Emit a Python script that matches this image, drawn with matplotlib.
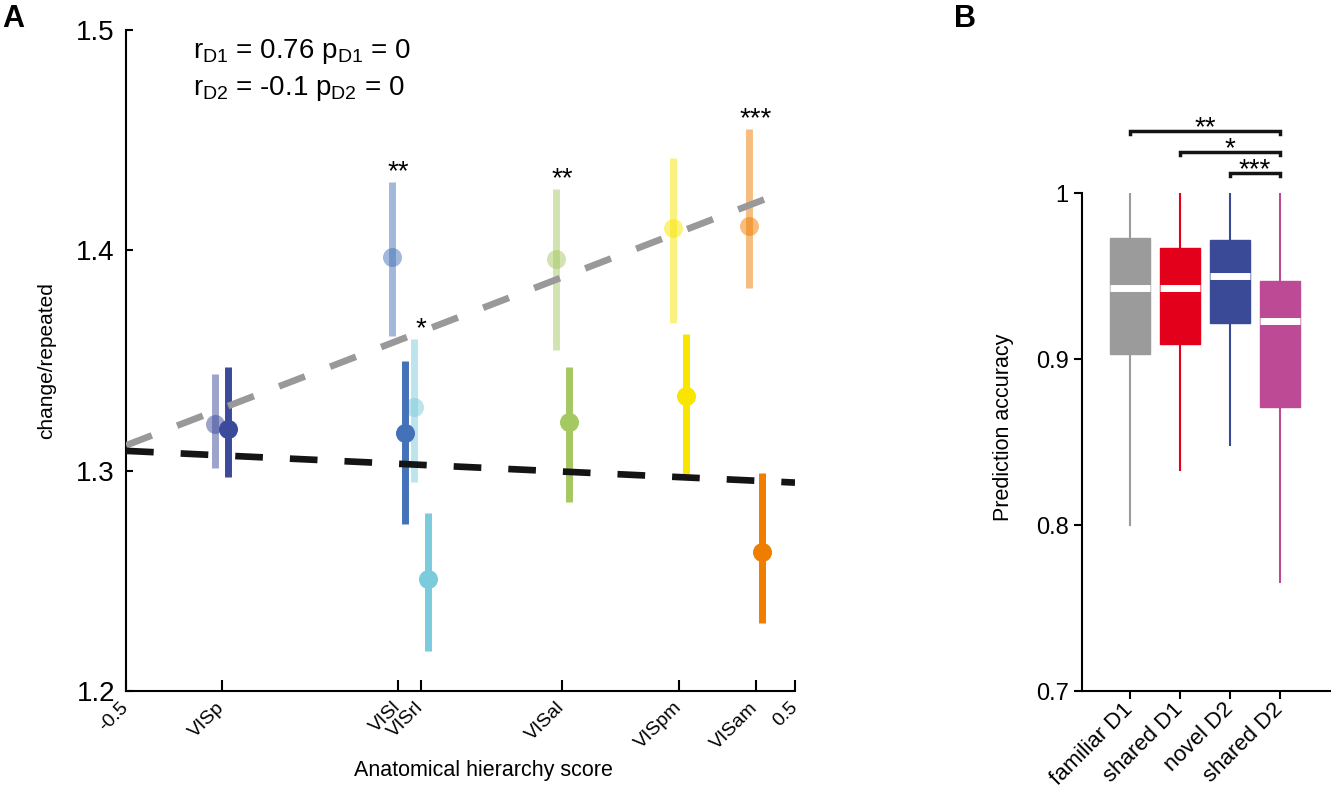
import matplotlib.pyplot as plt
import numpy as np

plt.rcParams['font.family'] = ['Liberation Sans', 'DejaVu Sans']
plt.rcParams['mathtext.default'] = 'regular'

# ---- Panel A data ----
areas = ['VISp', 'VISl', 'VISrl', 'VISal', 'VISpm', 'VISam']
hierarchy = [-0.357, -0.093, -0.059, 0.152, 0.327, 0.441]
area_colors = ['#3b4a9a', '#4472b9', '#7ccbdc', '#a5c962', '#f9e500', '#ef7d00']

d1_mean = [1.321, 1.397, 1.329, 1.396, 1.410, 1.411]
d1_low = [1.301, 1.361, 1.295, 1.355, 1.367, 1.383]
d1_high = [1.344, 1.431, 1.360, 1.428, 1.442, 1.455]

d2_mean = [1.319, 1.317, 1.251, 1.322, 1.334, 1.263]
d2_low = [1.297, 1.276, 1.218, 1.286, 1.298, 1.231]
d2_high = [1.347, 1.350, 1.281, 1.347, 1.362, 1.299]

area_stars = ['', '**', '*', '**', '', '***']

# regression lines (slope, intercept)
fit_d1 = [0.117, 1.370]
fit_d2 = [-0.0144, 1.3018]

# ---- Panel B data ----
groups = ['familiar D1', 'shared D1', 'novel D2', 'shared D2']
box_colors = ['#9b9b9b', '#e2001a', '#3b4a97', '#bd4a94']
med = [0.943, 0.943, 0.950, 0.923]
q1 = [0.903, 0.909, 0.922, 0.871]
q3 = [0.973, 0.967, 0.972, 0.947]
whis_lo = [0.800, 0.833, 0.848, 0.766]
whis_hi = [1.0, 1.0, 1.0, 1.0]
comparisons = [(1, 4, '**'), (2, 4, '*'), (3, 4, '***')]

fig = plt.figure(figsize=(13.31, 7.91), dpi=100)
axA = fig.add_axes([0.0947, 0.1264, 0.5026, 0.8356])
axB = fig.add_axes([0.8129, 0.1264, 0.1863, 0.6292])

# ---- Panel A ----
off = 0.01
for i in range(len(areas)):
    x = hierarchy[i]
    c = area_colors[i]
    axA.errorbar(x - off, d1_mean[i],
                 yerr=[[d1_mean[i] - d1_low[i]], [d1_high[i] - d1_mean[i]]],
                 fmt='o', ms=13.7, mew=0, color=c, ecolor=c, elinewidth=5,
                 capsize=0, alpha=0.5, zorder=2)
    axA.errorbar(x + off, d2_mean[i],
                 yerr=[[d2_mean[i] - d2_low[i]], [d2_high[i] - d2_mean[i]]],
                 fmt='o', ms=13.7, mew=0, color=c, ecolor=c, elinewidth=5,
                 capsize=0, zorder=3)
    if area_stars[i]:
        axA.annotate(area_stars[i], (x, d1_high[i]), xytext=(0, 2),
                     textcoords='offset points', ha='center', va='baseline',
                     fontsize=20)

# fit lines: D1 drawn up to the last area, D2 across the whole axis
x1 = np.array([-0.5, max(hierarchy) + 0.02])
x2 = np.array([-0.5, 0.5])
axA.plot(x1, fit_d1[0] * x1 + fit_d1[1], color='#999999', lw=4.8,
         ls=(0, (4.15, 4.05)), dash_capstyle='butt', zorder=5)
axA.plot(x2, fit_d2[0] * x2 + fit_d2[1], color='#141414', lw=4.8,
         ls=(0, (4.15, 4.05)), dash_capstyle='butt', zorder=5)

axA.set_xlim(-0.5, 0.5)
axA.set_ylim(1.2, 1.5)
axA.set_yticks([1.2, 1.3, 1.4, 1.5])
axA.set_yticklabels(['1.2', '1.3', '1.4', '1.5'], fontsize=20)
axA.set_xticks([-0.5] + hierarchy + [0.5])
axA.set_xticklabels(['-0.5'] + areas + ['0.5'], fontsize=14, rotation=45,
                    ha='right', va='center', rotation_mode='anchor')
axA.tick_params(axis='x', direction='in', length=8, width=1.5, pad=10)
axA.tick_params(axis='y', direction='in', length=5, width=1.5, pad=8)
for s in ['top', 'right']:
    axA.spines[s].set_visible(False)
for s in ['left', 'bottom']:
    axA.spines[s].set_linewidth(1.5)
axA.set_xlabel('Anatomical hierarchy score', fontsize=15.5)
axA.xaxis.set_label_coords(0.534, -0.105)
axA.set_ylabel('change/repeated', fontsize=15)
axA.yaxis.set_label_coords(-0.105, 0.5)

axA.text(0.1, 0.9576, 'r$_{D1}$ = 0.76 p$_{D1}$ = 0', transform=axA.transAxes,
         fontsize=20, va='baseline')
axA.text(0.1, 0.9017, 'r$_{D2}$ = -0.1 p$_{D2}$ = 0', transform=axA.transAxes,
         fontsize=20, va='baseline')

# ---- Panel B ----
positions = np.arange(1, len(groups) + 1)
stats = []
for k in range(len(groups)):
    stats.append(dict(med=med[k], q1=q1[k], q3=q3[k], whislo=whis_lo[k],
                      whishi=whis_hi[k], fliers=[], label=groups[k]))
bp = axB.bxp(stats, positions=positions, widths=0.8, patch_artist=True,
             showcaps=False, showfliers=False)
for k, c in enumerate(box_colors):
    bp['boxes'][k].set_facecolor(c)
    bp['boxes'][k].set_edgecolor(c)
    bp['boxes'][k].set_linewidth(1)
    bp['medians'][k].set_color('white')
    bp['medians'][k].set_linewidth(5)
    bp['medians'][k].set_solid_capstyle('butt')
    for w in bp['whiskers'][2 * k:2 * k + 2]:
        w.set_color(c)
        w.set_linewidth(1.5)

axB.set_xlim(0.04, 5.0)
axB.set_ylim(0.7, 1.0)
axB.set_yticks([0.7, 0.8, 0.9, 1.0])
axB.set_yticklabels(['0.7', '0.8', '0.9', '1'], fontsize=17)
axB.set_xticks(positions)
axB.set_xticklabels(groups, fontsize=16, rotation=45, ha='right',
                    va='center', rotation_mode='anchor')
axB.tick_params(direction='out', length=6, width=1.5)
axB.tick_params(axis='x', pad=5)
for s in ['top', 'right']:
    axB.spines[s].set_visible(False)
for s in ['left', 'bottom']:
    axB.spines[s].set_linewidth(1.5)
axB.set_ylabel('Prediction accuracy', fontsize=15.5)
axB.yaxis.set_label_coords(-0.274, 0.53)

for n, (a, b, star) in enumerate(comparisons):
    h = 1.0 + 0.0125 * (len(comparisons) - n)
    axB.plot([a, a, b, b], [h - 0.002, h, h, h - 0.002], color='#141414',
             lw=2.5, clip_on=False, solid_joinstyle='miter')
    axB.annotate(star, ((a + b) / 2, h), xytext=(0, -3),
                 textcoords='offset points', ha='center', va='baseline',
                 fontsize=20, annotation_clip=False)

fig.text(0.002, 0.995, 'A', fontsize=22, fontweight='bold', va='top')
fig.text(0.717, 0.995, 'B', fontsize=22, fontweight='bold', va='top')

fig.savefig('out.png', dpi=100)
